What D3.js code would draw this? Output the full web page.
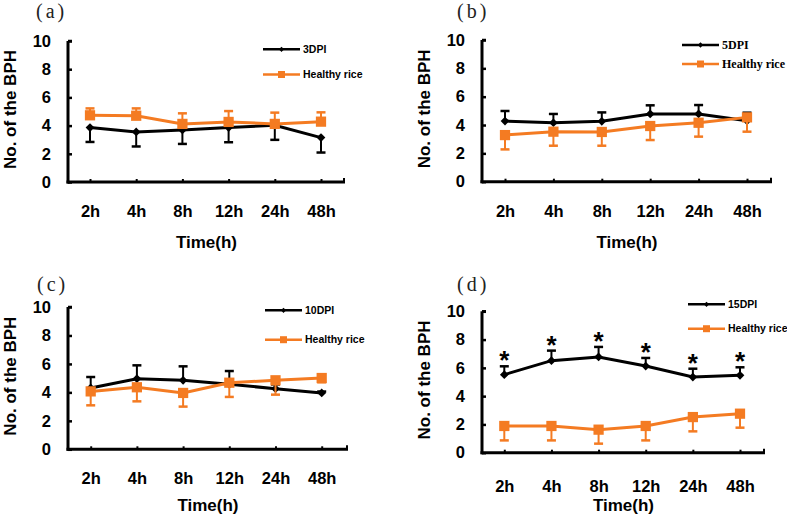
<!DOCTYPE html>
<html>
<head>
<meta charset="utf-8">
<script src="https://cdn.jsdelivr.net/npm/d3@7"></script>
<style>
  html, body { margin: 0; padding: 0; background: #fff; }
  svg { display: block; }
</style>
</head>
<body>
<svg id="chart" width="787" height="523"></svg>
<script>
// ---------------- DATA ----------------
const categories = ["2h", "4h", "8h", "12h", "24h", "48h"];
const yTicks = [0, 2, 4, 6, 8, 10];
const panelLabels = ["(a)", "(b)", "(c)", "(d)"];
const infectedNames = ["3DPI", "5DPI", "10DPI", "15DPI"];
const healthyName = "Healthy rice";
const xTitle = "Time(h)";
const yTitle = "No. of the BPH";

// panel (a) 3DPI
const dpi3Mean = [3.86, 3.55, 3.69, 3.86, 4.02, 3.15];
const dpi3Err  = [1.02, 1.03, 0.99, 1.04, 1.03, 1.06];
const healthyAMean = [4.73, 4.70, 4.12, 4.26, 4.12, 4.28];
const healthyAErr  = [0.49, 0.52, 0.75, 0.77, 0.80, 0.66];
// panel (b) 5DPI
const dpi5Mean = [4.28, 4.16, 4.26, 4.78, 4.78, 4.30];
const dpi5Err  = [0.71, 0.62, 0.63, 0.61, 0.63, 0.57];
const healthyBMean = [3.29, 3.53, 3.51, 3.93, 4.16, 4.54];
const healthyBErr  = [1.01, 0.99, 0.97, 0.99, 0.98, 1.01];
// panel (c) 10DPI
const dpi10Mean = [4.31, 4.96, 4.85, 4.57, 4.26, 3.96];
const dpi10Err  = [0.77, 0.94, 0.98, 0.93, 0.30, 0.10];
const healthyCMean = [4.07, 4.36, 3.96, 4.68, 4.85, 5.01];
const healthyCErr  = [0.98, 0.99, 0.96, 1.00, 1.01, 0.30];
// panel (d) 15DPI
const dpi15Mean = [5.52, 6.51, 6.77, 6.13, 5.35, 5.47];
const dpi15Err  = [0.59, 0.71, 0.71, 0.57, 0.59, 0.57];
const healthyDMean = [1.89, 1.89, 1.63, 1.89, 2.52, 2.76];
const healthyDErr  = [1.02, 1.02, 0.99, 1.02, 1.01, 0.99];
const dpi15Significant = [true, true, true, true, true, true];

// ---------------- LAYOUT / STYLE ----------------
const BLACK = "#000000";
const ORANGE = "#f47b22";
const SANS = "'Liberation Sans', Arial, Helvetica, sans-serif";
const SERIF = "'Liberation Serif', 'Times New Roman', serif";

const panels = [
  { infMean: dpi3Mean, infErr: dpi3Err, hMean: healthyAMean, hErr: healthyAErr, infDir: 1, hDir: -1,
    ax: 68, x0: 90, x1: 321, xEnd: 345, y0: 182, y10: 41, tickDy: 34.7, titleY: 248,
    legX: 263, legY: [49.3, 74.5], legFont: SANS, legSize: 10.5, labelX: 36, labelY: 18, sig: null },
  { infMean: dpi5Mean, infErr: dpi5Err, hMean: healthyBMean, hErr: healthyBErr, infDir: -1, hDir: 1,
    ax: 482, x0: 505, x1: 747, xEnd: 772, y0: 181.7, y10: 40, tickDy: 35, titleY: 248,
    legX: 682, legY: [45, 64], legFont: SERIF, legSize: 12, labelX: 457, labelY: 18, sig: null },
  { infMean: dpi10Mean, infErr: dpi10Err, hMean: healthyCMean, hErr: healthyCErr, infDir: -1, hDir: 1,
    ax: 68, x0: 90.7, x1: 321.7, xEnd: 348, y0: 449.3, y10: 307, tickDy: 34.4, titleY: 511,
    legX: 265, legY: [310.3, 339.7], legFont: SANS, legSize: 10.5, labelX: 37, labelY: 291, sig: null },
  { infMean: dpi15Mean, infErr: dpi15Err, hMean: healthyDMean, hErr: healthyDErr, infDir: -1, hDir: 1,
    ax: 482, x0: 504.3, x1: 740, xEnd: 765, y0: 452.7, y10: 311.3, tickDy: 39.3, titleY: 511,
    legX: 688, legY: [304.3, 328.7], legFont: SANS, legSize: 10.5, labelX: 457, labelY: 291, sig: dpi15Significant }
];

const svg = d3.select("#chart");

panels.forEach((p, i) => {
  const g = svg.append("g");
  const x = d3.scalePoint().domain(categories).range([p.x0, p.x1]);
  const y = d3.scaleLinear().domain([0, 10]).range([p.y0, p.y10]);

  // Panel label
  g.append("text")
    .attr("x", p.labelX).attr("y", p.labelY)
    .attr("font-family", SERIF).attr("font-size", 20)
    .attr("letter-spacing", 3)
    .attr("fill", "#222")
    .text(panelLabels[i]);

  // Y axis
  const yAxis = d3.axisLeft(y).tickValues(yTicks).tickSizeInner(-4).tickSizeOuter(0).tickPadding(17)
    .tickFormat(d3.format("d"));
  const yg = g.append("g").attr("transform", `translate(${p.ax},0)`).call(yAxis);
  yg.select(".domain").remove();
  yg.selectAll(".tick line").attr("stroke", BLACK).attr("stroke-width", 2.5);
  yg.selectAll(".tick text").attr("font-family", SANS).attr("font-size", 16.5)
    .attr("font-weight", "bold").attr("fill", BLACK);

  // X axis
  const xAxis = d3.axisBottom(x).tickSizeInner(-3).tickSizeOuter(0).tickPadding(0);
  const xg = g.append("g").attr("transform", `translate(0,${p.y0})`).call(xAxis);
  xg.select(".domain").remove();
  xg.selectAll(".tick line").attr("stroke", BLACK).attr("stroke-width", 2);
  xg.selectAll(".tick text").attr("font-family", SANS).attr("font-size", 16.5)
    .attr("font-weight", "bold").attr("fill", BLACK)
    .attr("dy", null).attr("y", p.tickDy);

  // axis lines
  g.append("line").attr("x1", p.ax).attr("x2", p.ax).attr("y1", y(0) + 1.5).attr("y2", y(10))
    .attr("stroke", BLACK).attr("stroke-width", 3);
  g.append("line").attr("x1", p.ax - 1.5).attr("x2", p.xEnd).attr("y1", y(0)).attr("y2", y(0))
    .attr("stroke", BLACK).attr("stroke-width", 3);
  g.append("line").attr("x1", p.xEnd - 1).attr("x2", p.xEnd - 1).attr("y1", y(0)).attr("y2", y(0) - 4)
    .attr("stroke", BLACK).attr("stroke-width", 2);
  g.append("line").attr("x1", p.ax).attr("x2", p.ax + 4).attr("y1", y(10)).attr("y2", y(10))
    .attr("stroke", BLACK).attr("stroke-width", 2.5);

  // Axis titles
  g.append("text")
    .attr("x", (p.ax + p.xEnd) / 2).attr("y", p.titleY)
    .attr("text-anchor", "middle")
    .attr("font-family", SANS).attr("font-size", 17).attr("font-weight", "bold")
    .text(xTitle);
  g.append("text")
    .attr("transform", `translate(${p.ax - 58},${(p.y0 + p.y10) / 2 - 2}) rotate(-90)`)
    .attr("text-anchor", "middle").attr("dy", "0.35em")
    .attr("font-family", SANS).attr("font-size", 17).attr("font-weight", "bold")
    .text(yTitle);

  const line = d3.line().x((d, k) => x(categories[k])).y(d => y(d));

  function drawSeries(means, errs, dir, color, marker) {
    const sg = g.append("g");
    const bars = sg.selectAll(".err").data(means).enter().append("g");
    bars.append("line")
      .attr("x1", (d, k) => x(categories[k])).attr("x2", (d, k) => x(categories[k]))
      .attr("y1", d => y(d))
      .attr("y2", (d, k) => y(d - dir * errs[k]))
      .attr("stroke", color).attr("stroke-width", 2);
    bars.append("line")
      .attr("x1", (d, k) => x(categories[k]) - 4.5).attr("x2", (d, k) => x(categories[k]) + 4.5)
      .attr("y1", (d, k) => y(d - dir * errs[k]))
      .attr("y2", (d, k) => y(d - dir * errs[k]))
      .attr("stroke", color).attr("stroke-width", 2.5);
    sg.append("path").datum(means).attr("d", line)
      .attr("fill", "none").attr("stroke", color).attr("stroke-width", 3);
    sg.selectAll(".mk").data(means).enter().append("path")
      .attr("d", marker === "diamond" ? d3.symbol(d3.symbolSquare, 38)() : d3.symbol(d3.symbolSquare, 105)())
      .attr("transform", (d, k) => `translate(${x(categories[k])},${y(d)})` + (marker === "diamond" ? " rotate(45)" : ""))
      .attr("fill", color);
  }

  drawSeries(p.infMean, p.infErr, p.infDir, BLACK, "diamond");
  drawSeries(p.hMean, p.hErr, p.hDir, ORANGE, "square");

  // significance asterisks
  if (p.sig) {
    g.selectAll(".sig").data(p.infMean).enter()
      .filter((d, k) => p.sig[k])
      .append("text")
      .attr("x", (d, k) => x(categories[k]))
      .attr("y", (d, k) => y(d + p.infErr[k]) + 3)
      .attr("text-anchor", "middle")
      .attr("font-family", SANS).attr("font-size", 26).attr("font-weight", "bold")
      .text("*");
  }

  // Legend
  const legItems = [
    { name: infectedNames[i], color: BLACK, marker: "diamond" },
    { name: healthyName, color: ORANGE, marker: "square" }
  ];
  legItems.forEach((it, j) => {
    const ly = p.legY[j];
    g.append("line").attr("x1", p.legX).attr("x2", p.legX + 37).attr("y1", ly).attr("y2", ly)
      .attr("stroke", it.color).attr("stroke-width", 2.5);
    g.append("path")
      .attr("d", it.marker === "diamond" ? d3.symbol(d3.symbolSquare, 14)() : d3.symbol(d3.symbolSquare, 49)())
      .attr("transform", `translate(${p.legX + 18.5},${ly})` + (it.marker === "diamond" ? " rotate(45)" : ""))
      .attr("fill", it.color);
    g.append("text").attr("x", p.legX + 40).attr("y", ly).attr("dy", "0.35em")
      .attr("font-family", p.legFont).attr("font-size", p.legSize).attr("font-weight", "bold")
      .text(it.name);
  });
});
</script>
</body>
</html>
